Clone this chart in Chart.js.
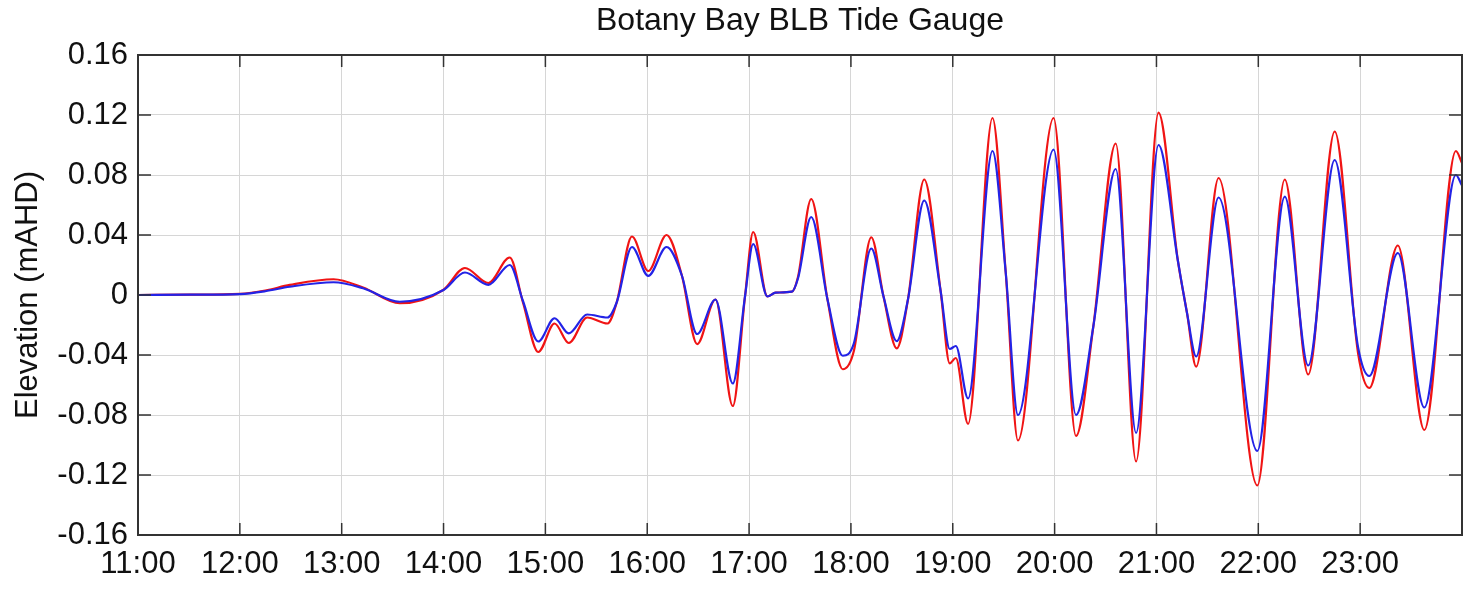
<!DOCTYPE html>
<html>
<head>
<meta charset="utf-8">
<title>Botany Bay BLB Tide Gauge</title>
<script src="https://cdn.jsdelivr.net/npm/chart.js@4.4.1/dist/chart.umd.min.js"></script>
<style>
  html, body { margin: 0; padding: 0; background: #fff; }
  canvas { display: block; }
</style>
</head>
<body>
<canvas id="tideChart" width="1478" height="597"></canvas>
<script>
// time in decimal hours
var timeHours = [
    11.00, 11.51, 12.00, 12.25, 12.49, 12.92, 13.21, 13.57, 14.00, 14.21,
    14.44, 14.65, 14.78, 14.93, 15.09, 15.23, 15.41, 15.61, 15.70, 15.85,
    16.01, 16.19, 16.34, 16.49, 16.67, 16.84, 16.96, 17.04, 17.18, 17.26,
    17.42, 17.48, 17.61, 17.77, 17.92, 18.03, 18.20, 18.32, 18.45, 18.56,
    18.72, 18.88, 18.97, 19.03, 19.15, 19.39, 19.52, 19.64, 19.99, 20.21,
    20.38, 20.60, 20.80, 21.02, 21.21, 21.30, 21.39, 21.61, 21.99, 22.26,
    22.49, 22.75, 22.98, 23.09, 23.37, 23.63, 23.94, 24.00
];

var redElevation = [
    0, 0.0002, 0.0008, 0.003, 0.0067, 0.0105, 0.005, -0.0055, 0.0035, 0.018,
    0.008, 0.025, -0.005, -0.038, -0.019, -0.032, -0.015, -0.019, -0.005, 0.039,
    0.016, 0.040, 0.013, -0.0327, -0.003, -0.074, -0.001, 0.042, -0.001, 0.0016,
    0.0022, 0.012, 0.064, -0.003, -0.0495, -0.037, 0.0385, -0.001, -0.0356, -0.003,
    0.077, 0.003, -0.0456, -0.042, -0.086, 0.118, 0.015, -0.097, 0.118, -0.094,
    -0.021, 0.101, -0.111, 0.1216, 0.023, -0.012, -0.0478, 0.078, -0.127, 0.077,
    -0.053, 0.109, -0.039, -0.062, 0.033, -0.090, 0.096, 0.088
];

var blueElevation = [
    0, 0.0002, 0.0006, 0.0025, 0.0055, 0.0085, 0.0045, -0.0045, 0.0033, 0.015,
    0.0067, 0.020, -0.004, -0.031, -0.0155, -0.0256, -0.013, -0.015, -0.005, 0.032,
    0.0127, 0.032, 0.013, -0.026, -0.003, -0.059, -0.001, 0.034, -0.001, 0.0016,
    0.0022, 0.011, 0.052, -0.003, -0.0405, -0.032, 0.031, -0.001, -0.0307, -0.003,
    0.063, 0.003, -0.036, -0.034, -0.069, 0.096, 0.015, -0.080, 0.097, -0.080,
    -0.021, 0.084, -0.092, 0.100, 0.023, -0.012, -0.041, 0.065, -0.104, 0.0656,
    -0.047, 0.090, -0.035, -0.054, 0.028, -0.075, 0.080, 0.073
];

var hourTicks = [11, 12, 13, 14, 15, 16, 17, 18, 19, 20, 21, 22, 23];
var elevationTicks = [-0.16, -0.12, -0.08, -0.04, 0, 0.04, 0.08, 0.12, 0.16];

function toPoints(values) {
    return values.map(function (v, i) { return { x: timeHours[i], y: v }; });
}

var fontFamily = "'Liberation Sans', Arial, sans-serif";

// box around the plot plus the little inward tick marks (matlab style)
const boxTicks = {
    id: 'boxTicks',
    afterDraw(chart) {
        const ctx = chart.ctx;
        const a = chart.chartArea;
        const x = chart.scales.x;
        const y = chart.scales.y;
        ctx.save();
        ctx.strokeStyle = '#333';
        ctx.lineWidth = 1.5;
        ctx.beginPath();
        hourTicks.forEach(function (h) {
            const px = x.getPixelForValue(h);
            ctx.moveTo(px, a.bottom); ctx.lineTo(px, a.bottom - 12);
            ctx.moveTo(px, a.top); ctx.lineTo(px, a.top + 12);
        });
        elevationTicks.forEach(function (v) {
            const py = y.getPixelForValue(v);
            ctx.moveTo(a.left, py); ctx.lineTo(a.left + 13, py);
            ctx.moveTo(a.right, py); ctx.lineTo(a.right - 13, py);
        });
        ctx.stroke();
        ctx.lineWidth = 2;
        ctx.strokeRect(a.left, a.top, a.right - a.left, a.bottom - a.top);
        ctx.restore();
    }
};

const ctx = document.getElementById('tideChart');

new Chart(ctx, {
    type: 'line',
    data: {
        datasets: [
            {
                label: 'Blue',
                data: toPoints(blueElevation),
                borderColor: 'rgb(35, 35, 230)',
                borderWidth: 2.2,
                pointRadius: 0,
                cubicInterpolationMode: 'monotone',
                order: 0
            },
            {
                label: 'Red',
                data: toPoints(redElevation),
                borderColor: 'rgb(240, 20, 20)',
                borderWidth: 2.2,
                pointRadius: 0,
                cubicInterpolationMode: 'monotone',
                order: 1
            }
        ]
    },
    options: {
        responsive: false,
        animation: false,
        layout: { padding: { left: 0, right: 16, top: 0, bottom: 0 } },
        plugins: {
            legend: { display: false },
            tooltip: { enabled: false },
            title: {
                display: true,
                fullSize: false,
                text: 'Botany Bay BLB Tide Gauge',
                color: '#111',
                font: { family: fontFamily, size: 32, weight: 'normal' },
                padding: { top: 2, bottom: 14.6 }
            }
        },
        scales: {
            x: {
                type: 'linear',
                min: 11,
                max: 24,
                afterFit: function (scale) { scale.height = 62; },
                grid: { color: '#d6d6d6', lineWidth: 1, drawTicks: false },
                border: { display: false },
                ticks: {
                    stepSize: 1,
                    autoSkip: false,
                    maxRotation: 0,
                    padding: 11,
                    color: '#111',
                    font: { family: fontFamily, size: 31 },
                    callback: function (v) { return v < 24 ? v + ':00' : ''; }
                }
            },
            y: {
                min: -0.16,
                max: 0.16,
                afterFit: function (scale) { scale.width = 138; },
                grid: { color: '#d6d6d6', lineWidth: 1, drawTicks: false },
                border: { display: false },
                title: {
                    display: true,
                    text: 'Elevation (mAHD)',
                    color: '#111',
                    font: { family: fontFamily, size: 31 },
                    padding: { top: 10, bottom: 0 }
                },
                ticks: {
                    stepSize: 0.04,
                    padding: 10,
                    color: '#111',
                    font: { family: fontFamily, size: 31 },
                    callback: function (v) { return Math.abs(v) < 1e-9 ? '0' : v.toFixed(2); }
                }
            }
        }
    },
    plugins: [boxTicks]
});
</script>
</body>
</html>
